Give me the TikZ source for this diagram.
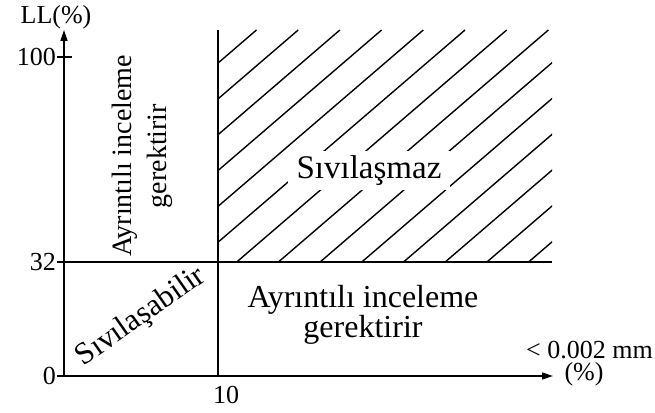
\documentclass[tikz,border=0pt]{standalone}
\usepackage{fontspec}
\setmainfont{Liberation Serif}
\usetikzlibrary{arrows.meta, positioning}

\begin{document}
\begin{tikzpicture}[
  x=1pt, y=1pt,
  axis/.style={line width=1.6pt, -{Triangle[length=11pt, width=7pt]}},
  rule/.style={line width=1.5pt},
  hatch/.style={line width=1.4pt},
  lbl/.style={font=\fontsize{26}{30}\selectfont, inner sep=1pt},
  zone/.style={font=\fontsize{32}{30}\selectfont, align=center, inner sep=1pt}
]
\useasboundingbox (0,0) rectangle (655,412);

\coordinate (O) at (64,36);
\coordinate (ytip) at (64,382);
\coordinate (xtip) at (553,36);
\coordinate (c10b) at (218,36);
\coordinate (c10t) at (218,382);
\coordinate (c32l) at (57,150);
\coordinate (c32r) at (552,150);
\coordinate (c100l) at (57,355);
\coordinate (c100r) at (72,355);
\coordinate (c0l) at (57,36);

\begin{scope}
\clip (218,150) rectangle (552,382);
\foreach \k in {-6,...,7}
  \draw[hatch] ({236.7+41.7*\k},150) -- ++(270,232);
\end{scope}

\draw[axis] (c0l) -- (xtip);
\draw[axis] (O) -- (ytip);
\draw[rule] (c10b) -- (c10t);
\draw[rule] (c32l) -- (c32r);
\draw[rule] (c100l) -- (c100r);

\node[lbl] (ll) at (56,395) {LL(\%)};
\node[lbl, anchor=east] (t100) at (c100l) {100};
\node[lbl, anchor=east] (t32) at (c32l) {32};
\node[lbl, anchor=east] (t0) at (c0l) {0};
\node[lbl] (t10) at (226,17) {10};
\node[lbl, anchor=east] (clay) at (654,62) {< 0.002 mm};
\node[lbl] (pct) at (584,38) {(\%)};

\node[zone, fill=white, minimum width=162pt, minimum height=39pt,
      font=\fontsize{33}{30}\selectfont] (nonliq) at (369,241) {Sıvılaşmaz};
\node[zone] (detail1) at (363,97) {Ayrıntılı inceleme\\gerektirir};
\node[zone, rotate=90, font=\fontsize{28}{35}\selectfont] (detail2) at (142,256)
  {Ayrıntılı inceleme\\gerektirir};
\node[zone, rotate=35, font=\fontsize{31}{30}\selectfont] (liq) at (141,95) {Sıvılaşabilir};
\end{tikzpicture}
\end{document}
